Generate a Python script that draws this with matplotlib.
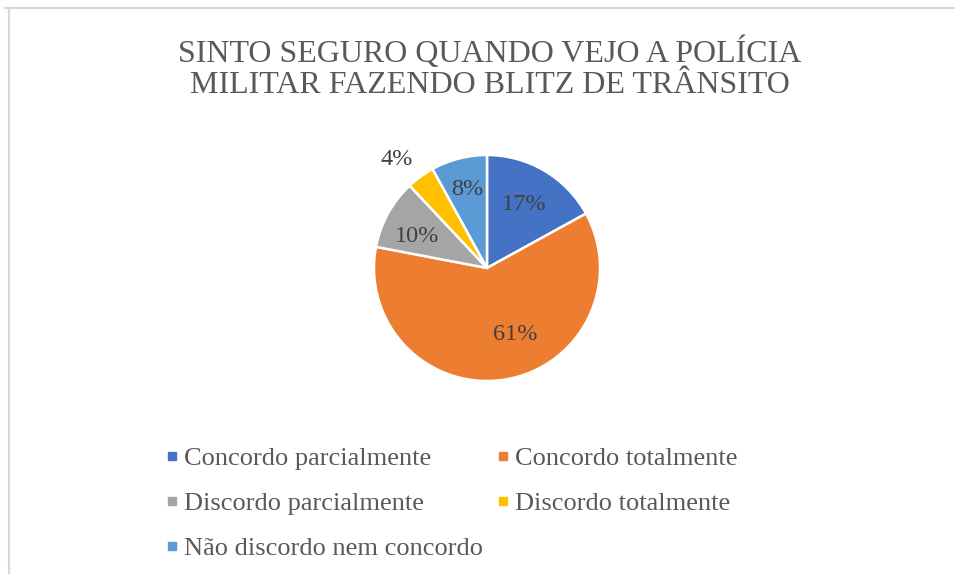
import numpy as np
import matplotlib.pyplot as plt
from matplotlib.lines import Line2D

# data
categories = ["Concordo parcialmente", "Concordo totalmente", "Discordo parcialmente",
              "Discordo totalmente", "Não discordo nem concordo"]
percent = [17, 61, 10, 4, 8]
colors = ["#4472C4", "#ED7D31", "#A5A5A5", "#FFC000", "#5B9BD5"]
# label placement (radius fraction, angle nudge in degrees)
label_dist = [0.65, 0.64, 0.68, 1.25, 0.72]
label_nudge = [0, 14, 5, 4, 0]

title = "SINTO SEGURO QUANDO VEJO A POLÍCIA\nMILITAR FAZENDO BLITZ DE TRÂNSITO"
txt_color = "#595959"
serif = ["Liberation Serif", "DejaVu Serif"]

W, H = 955, 574
fig = plt.figure(figsize=(W / 100, H / 100), dpi=100)

# pie axes: centre (487, 268) px, radius ~113 px
cx, cy, r = 487, 268, 113
ax = fig.add_axes([(cx - r) / W, (H - cy - r) / H, 2 * r / W, 2 * r / H])
wedges, _ = ax.pie(percent, colors=colors, startangle=90, counterclock=False,
                   radius=1, wedgeprops=dict(edgecolor="white", linewidth=1.8))
ax.set_xlim(-1, 1)
ax.set_ylim(-1, 1)
ax.set_aspect("equal")
ax.axis("off")

for w, p, d, n in zip(wedges, percent, label_dist, label_nudge):
    ang = np.deg2rad((w.theta1 + w.theta2) / 2 + n)
    ax.text(d * np.cos(ang), d * np.sin(ang), f"{p}%", ha="center", va="center",
            fontsize=17.5, color="#404040", family=serif)

fig.text(490 / W, 1 - 68 / H, title, ha="center", va="center", fontsize=23,
         color=txt_color, family=serif, linespacing=1.1)

# legend, filled column-wise
order = [0, 2, 4, 1, 3]
handles = [Line2D([], [], marker="s", linestyle="none", markersize=6,
                  markerfacecolor=colors[i], markeredgecolor=colors[i]) for i in order]
labels = [categories[i] for i in order]
leg = fig.legend(handles, labels, ncol=2, loc="upper left",
                 bbox_to_anchor=(143 / W, 1 - 423 / H), frameon=False,
                 prop=dict(family=serif, size=19), labelcolor=txt_color,
                 handlelength=0.4, handletextpad=0.25, labelspacing=0.82,
                 columnspacing=0.57)

# chart area border (top and left only visible)
fig.add_artist(Line2D([5 / W, 1], [1 - 8 / H, 1 - 8 / H], color="#d9d9d9", lw=1.5))
fig.add_artist(Line2D([9 / W, 9 / W], [0, 1 - 8 / H], color="#d9d9d9", lw=1.5))

fig.savefig("out.png", dpi=100)
